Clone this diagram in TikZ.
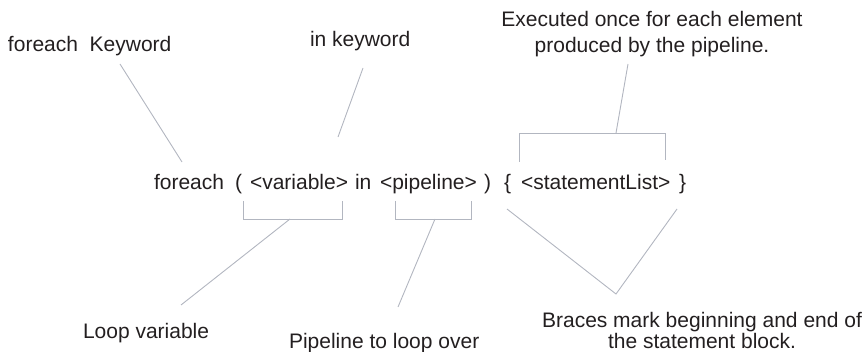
\documentclass[tikz,border=0pt]{standalone}
\usepackage{fontspec}
\setmainfont{Liberation Sans}
\definecolor{txt}{RGB}{35,31,32}
\definecolor{lead}{RGB}{178,182,192}
\begin{document}
\begin{tikzpicture}[x=1pt,y=-1pt,
  lbl/.style={inner sep=0pt,outer sep=0pt,text=txt,font=\fontsize{21}{26}\selectfont,anchor=base west},
  lblc/.style={lbl,anchor=base},
  leader/.style={draw=lead,line width=0.9pt}]
\useasboundingbox (0,0) rectangle (866,352);
% labels
\node[lbl] (kwlab) at (8,52) {foreach\ \ Keyword};
\node[lbl] (inlab) at (310,47) {in keyword};
\node[lblc] (exec1) at (652,27) {Executed once for each element};
\node[lblc] (exec2) at (652,53) {produced by the pipeline.};
\node[lbl] (looplab) at (83,338) {Loop variable};
\node[lbl] (pipelab) at (289,348) {Pipeline to loop over};
\node[lblc] (brace1) at (702,327) {Braces mark beginning and end of};
\node[lblc] (brace2) at (702,348) {the statement block.};
% main statement
\node[lbl] (kw) at (154,190) {foreach};
\node[lbl] (lp) at (235,190) {(};
\node[lbl] (var) at (250,190) {<variable>};
\node[lbl] (in) at (355,190) {in};
\node[lbl] (pipe) at (380,190) {<pipeline>};
\node[lbl] (rp) at (484,190) {)};
\node[lbl] (lb) at (504,190) {\{};
\node[lbl] (stmt) at (521,190) {<statementList>};
\node[lbl] (rb) at (679,190) {\}};
% coordinates
\coordinate (kwA) at (120,64);  \coordinate (kwB) at (182,162);
\coordinate (inA) at (363,68);  \coordinate (inB) at (338,137);
\coordinate (exA) at (628,64);  \coordinate (exB) at (616,133);
\coordinate (sbL) at (519,162); \coordinate (sbR) at (665,160);
\coordinate (vbL) at (243,201); \coordinate (vbR) at (342,201);
\coordinate (vbM) at (290,219); \coordinate (vbE) at (181,305);
\coordinate (pbL) at (395,201); \coordinate (pbR) at (471,201);
\coordinate (pbM) at (435,219); \coordinate (pbE) at (398,307);
\coordinate (vL) at (507,209);  \coordinate (vT) at (616,294); \coordinate (vR) at (677,209);
% leaders
\draw[leader] (kwA) -- (kwB);
\draw[leader] (inA) -- (inB);
\draw[leader] (exA) -- (exB);
\draw[leader] (sbL) |- (sbR |- exB) -- (sbR);
\draw[leader] (vbL) |- (vbR |- vbM) -- (vbR);
\draw[leader] (vbM) -- (vbE);
\draw[leader] (pbL) |- (pbR |- pbM) -- (pbR);
\draw[leader] (pbM) -- (pbE);
\draw[leader] (vL) -- (vT) -- (vR);
\end{tikzpicture}
\end{document}
